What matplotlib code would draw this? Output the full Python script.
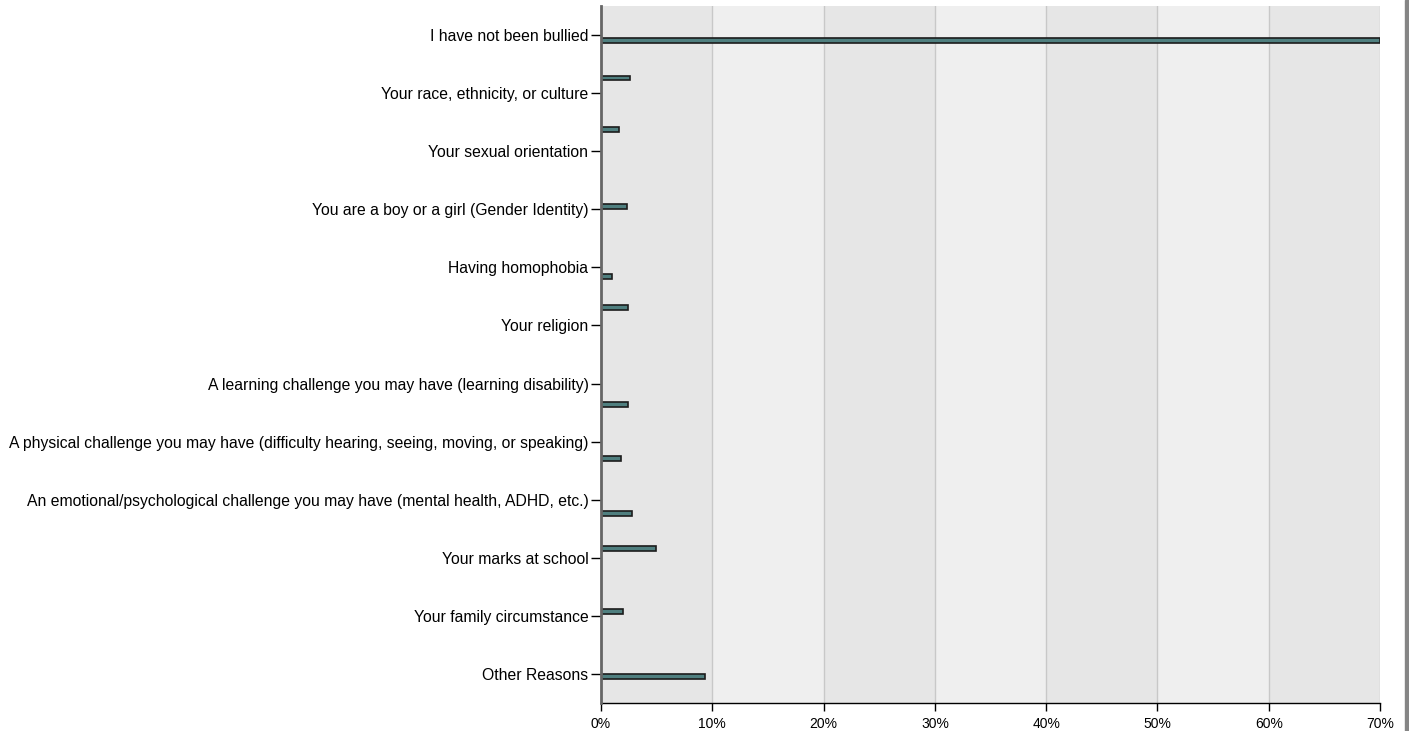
import matplotlib
matplotlib.use("Agg")
import matplotlib.pyplot as plt
from matplotlib.patches import Rectangle
from matplotlib.ticker import FuncFormatter, MultipleLocator

plt.rcParams['font.family'] = ['Liberation Sans', 'DejaVu Sans']

categories = [
    "I have not been bullied",
    "Your race, ethnicity, or culture",
    "Your sexual orientation",
    "You are a boy or a girl (Gender Identity)",
    "Having homophobia",
    "Your religion",
    "A learning challenge you may have (learning disability)",
    "A physical challenge you may have (difficulty hearing, seeing, moving, or speaking)",
    "An emotional/psychological challenge you may have (mental health, ADHD, etc.)",
    "Your marks at school",
    "Your family circumstance",
    "Other Reasons",
]
percent = [70.0, 2.58, 1.59, 2.3, 0.96, 2.43, 2.43, 1.83, 2.76, 4.91, 2.0, 9.31]
x_ticks = [0, 10, 20, 30, 40, 50, 60, 70]

# bars sit in different slots of each category band (fraction of a band)
bar_shift = [0.09, -0.26, -0.38, -0.04, 0.16, -0.31, 0.36, 0.29, 0.24, -0.16, -0.08, 0.04]

BAR_FILL = "#4f7f7f"
BAR_EDGE = "#1c1c1c"

fig = plt.figure(figsize=(14.09, 7.31), dpi=100)
ax = fig.add_axes([601 / 1409, 1 - 703 / 731, 779 / 1409, 697 / 731])

# alternating background bands
for i in range(len(x_ticks) - 1):
    shade = "#e6e6e6" if i % 2 == 0 else "#efefef"
    ax.axvspan(x_ticks[i], x_ticks[i + 1], color=shade, zorder=0, lw=0)
for x in x_ticks[1:]:
    ax.axvline(x, color="#c8c8c8", lw=1, zorder=1)

ys = [i + s for i, s in enumerate(bar_shift)]
ax.barh(ys, percent, height=0.085, color=BAR_FILL, edgecolor=BAR_EDGE,
        linewidth=1.2, zorder=3)

ax.set_xlim(0, 70)
ax.set_ylim(len(categories) - 0.5, -0.5)
ax.set_yticks(range(len(categories)))
ax.set_yticklabels(categories, fontsize=11.3)
ax.xaxis.set_major_locator(MultipleLocator(10))
ax.xaxis.set_major_formatter(FuncFormatter(lambda v, _: f"{v:.0f}%"))
ax.tick_params(axis="x", labelsize=10, length=6, width=1, pad=4, color="black")
ax.tick_params(axis="y", length=7, width=1, pad=2, color="black")

for side in ("top", "right"):
    ax.spines[side].set_visible(False)
ax.spines["left"].set_color("#666666")
ax.spines["left"].set_linewidth(2)
ax.spines["left"].set_zorder(4)
ax.spines["bottom"].set_color("black")
ax.spines["bottom"].set_linewidth(1)

# dark strip at the right edge of the image
fig.patches.append(Rectangle((1405 / 1409, 0), 4 / 1409, 1, transform=fig.transFigure,
                             color="#858585", zorder=0))

fig.savefig("out.png", dpi=100)
